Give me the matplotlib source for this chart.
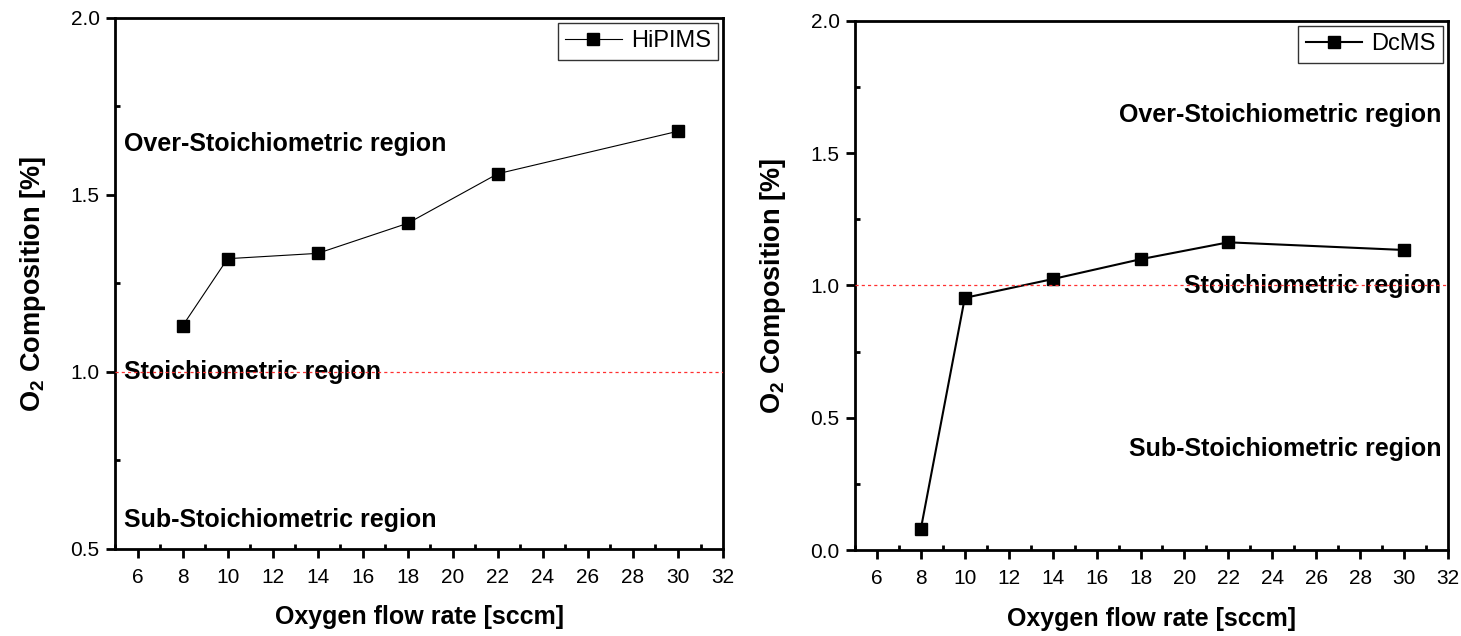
import matplotlib
matplotlib.use('Agg')
import matplotlib.pyplot as plt
from matplotlib.ticker import MultipleLocator

plt.rcParams['font.family'] = ['Liberation Sans', 'DejaVu Sans']
plt.rcParams['mathtext.fontset'] = 'custom'
plt.rcParams['mathtext.rm'] = 'Liberation Sans:bold'
plt.rcParams['mathtext.bf'] = 'Liberation Sans:bold'

# data
flow = [8, 10, 14, 18, 22, 30]
hipims = [1.13, 1.32, 1.335, 1.42, 1.56, 1.68]
dcms = [0.08, 0.953, 1.024, 1.099, 1.163, 1.134]
x_ticks = [6, 8, 10, 12, 14, 16, 18, 20, 22, 24, 26, 28, 30, 32]

fig = plt.figure(figsize=(14.61, 6.36), dpi=100)
ax1 = fig.add_axes([0.0787, 0.1368, 0.4162, 0.835])
ax2 = fig.add_axes([0.5852, 0.1352, 0.4059, 0.832])


def style(ax, ylo, yhi):
    ax.set_xlim(5, 32)
    ax.set_ylim(ylo, yhi)
    ax.set_xticks(x_ticks)
    ax.xaxis.set_minor_locator(MultipleLocator(1))
    ax.yaxis.set_major_locator(MultipleLocator(0.5))
    ax.yaxis.set_minor_locator(MultipleLocator(0.25))
    ax.tick_params(which='major', direction='out', length=6.5, width=2, labelsize=15)
    ax.tick_params(axis='x', which='major', pad=7.5)
    ax.tick_params(axis='y', which='major', pad=4.5)
    ax.tick_params(which='minor', direction='in', length=3.5, width=2)
    for s in ax.spines.values():
        s.set_linewidth(2)
    ax.set_xlabel('Oxygen flow rate [sccm]', fontsize=18, fontweight='bold', labelpad=13)
    ax.set_ylabel(r'O$_2$ Composition [%]', fontsize=19.5, fontweight='bold', labelpad=16)
    ax.axhline(1.0, color='#ff3030', lw=0.9, ls=(0, (2.5, 2.5)), zorder=5)


def legend(ax):
    leg = ax.legend(loc='upper right', fontsize=17, fancybox=False, edgecolor='black',
                    borderaxespad=0.2, handlelength=2.4, handletextpad=0.38,
                    borderpad=0.32)
    leg.get_frame().set_linewidth(1.0)


# left panel - HiPIMS
style(ax1, 0.5, 2.0)
ax1.plot(flow, hipims, color='black', lw=0.8, marker='s', ms=8, label='HiPIMS')
ax1.text(5.4, 1.644, 'Over-Stoichiometric region', fontsize=18, fontweight='bold', va='center')
ax1.text(5.4, 1.0, 'Stoichiometric region', fontsize=18, fontweight='bold', va='center')
ax1.text(5.4, 0.583, 'Sub-Stoichiometric region', fontsize=18, fontweight='bold', va='center')
legend(ax1)

# right panel - DcMS
style(ax2, 0.0, 2.0)
ax2.plot(flow, dcms, color='black', lw=1.5, marker='s', ms=8, label='DcMS')
ax2.text(31.7, 1.644, 'Over-Stoichiometric region', fontsize=18, fontweight='bold', va='center', ha='right')
ax2.text(31.7, 0.999, 'Stoichiometric region', fontsize=18, fontweight='bold', va='center', ha='right')
ax2.text(31.7, 0.383, 'Sub-Stoichiometric region', fontsize=18, fontweight='bold', va='center', ha='right')
legend(ax2)

fig.savefig('out.png', dpi=100)
